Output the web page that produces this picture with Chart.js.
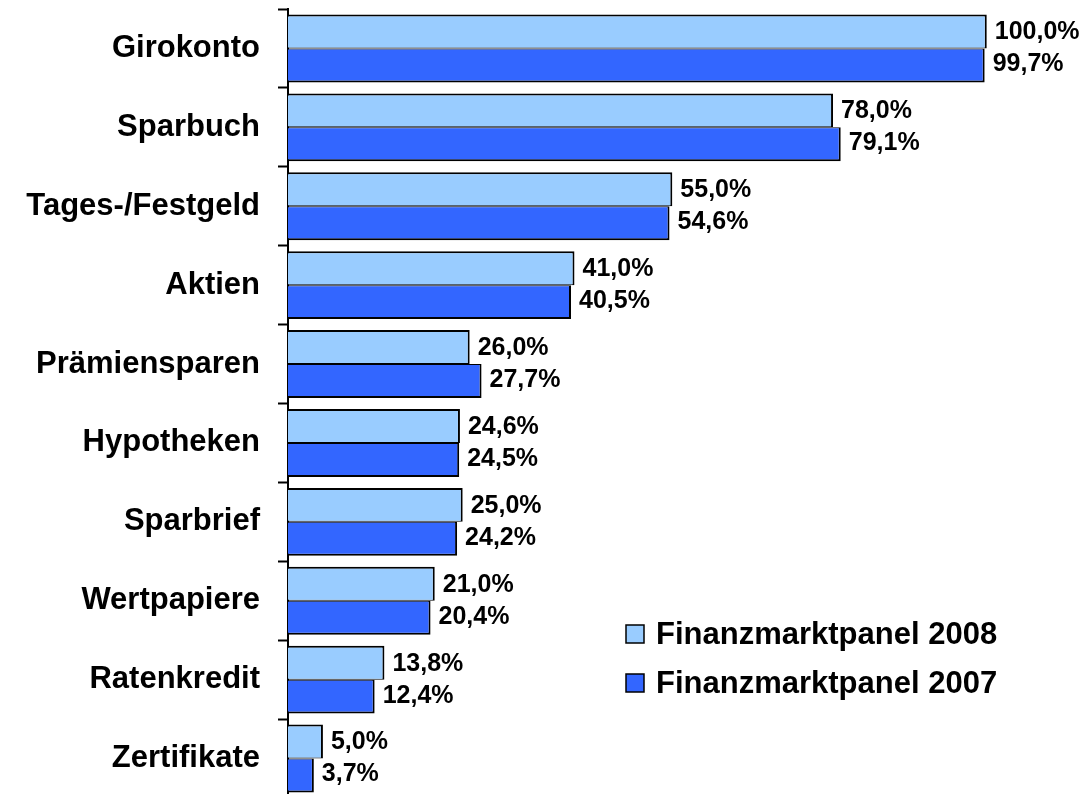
<!DOCTYPE html>
<html>
<head>
<meta charset="utf-8">
<script src="https://cdn.jsdelivr.net/npm/chart.js@4/dist/chart.umd.min.js"></script>
<style>
  html, body { margin: 0; padding: 0; background: #fff; overflow: hidden; }
  #wrap { width: 1086px; height: 800px; }
</style>
</head>
<body>
<div id="wrap"><canvas id="finanzChart" width="1086" height="800"></canvas></div>
<script>
var categories = ["Girokonto", "Sparbuch", "Tages-/Festgeld", "Aktien", "Prämiensparen", "Hypotheken", "Sparbrief", "Wertpapiere", "Ratenkredit", "Zertifikate"];
var panel2008 = [100.0, 78.0, 55.0, 41.0, 26.0, 24.6, 25.0, 21.0, 13.8, 5.0];
var panel2007 = [99.7, 79.1, 54.6, 40.5, 27.7, 24.5, 24.2, 20.4, 12.4, 3.7];
var seriesLabels = ["Finanzmarktpanel 2008", "Finanzmarktpanel 2007"];

function fmtPct(v) {
  return v.toFixed(1).replace('.', ',') + '%';
}

// value labels right of each bar
var barLabels = {
  id: 'barLabels',
  afterDatasetsDraw: function(chart) {
    var ctx = chart.ctx;
    ctx.save();
    ctx.fillStyle = '#000';
    ctx.font = 'bold 25px "Liberation Sans", Arial, sans-serif';
    ctx.textBaseline = 'middle';
    ctx.textAlign = 'left';
    chart.data.datasets.forEach(function(ds, i) {
      chart.getDatasetMeta(i).data.forEach(function(bar, j) {
        ctx.fillText(fmtPct(ds.data[j]), bar.x + 8, bar.y + 1 - i * 2);
      });
    });
    ctx.restore();
  }
};

// legend in the lower right of the plot
var boxLegend = {
  id: 'boxLegend',
  afterDraw: function(chart) {
    var ctx = chart.ctx;
    var x = 626, y0 = 634, step = 49;
    ctx.save();
    ctx.font = 'bold 31px "Liberation Sans", Arial, sans-serif';
    ctx.textBaseline = 'middle';
    chart.data.datasets.forEach(function(ds, i) {
      var y = y0 + i * step;
      ctx.fillStyle = ds.backgroundColor;
      ctx.fillRect(x, y - 9, 18, 18);
      ctx.lineWidth = 1.5;
      ctx.strokeStyle = '#000';
      ctx.strokeRect(x, y - 9, 18, 18);
      ctx.fillStyle = '#000';
      ctx.fillText(ds.label, x + 30, y + 1);
    });
    ctx.restore();
  }
};

const ctx = document.getElementById('finanzChart');
new Chart(ctx, {
  type: 'bar',
  data: {
    labels: categories,
    datasets: [{
      label: seriesLabels[0],
      data: panel2008,
      backgroundColor: '#99CCFF',
      borderColor: '#000',
      borderWidth: { top: 2, right: 2, bottom: 1, left: 0 },
      borderSkipped: false,
      categoryPercentage: 0.86,
      barPercentage: 1.0
    }, {
      label: seriesLabels[1],
      data: panel2007,
      backgroundColor: '#3366FF',
      borderColor: '#000',
      borderWidth: { top: 1, right: 2, bottom: 2, left: 0 },
      borderSkipped: false,
      categoryPercentage: 0.86,
      barPercentage: 1.0
    }]
  },
  options: {
    indexAxis: 'y',
    responsive: false,
    animation: false,
    layout: {
      padding: { top: 9, bottom: 2, left: 0, right: 0 }
    },
    plugins: {
      legend: { display: false },
      tooltip: { enabled: false }
    },
    scales: {
      x: {
        display: false,
        min: 0,
        max: 114.2
      },
      y: {
        afterFit: function(scale) {
          scale.width = 288;
          scale.paddingTop = 0;
          scale.paddingBottom = 0;
        },
        border: {
          display: true,
          color: '#000',
          width: 2
        },
        grid: {
          display: true,
          offset: true,
          drawOnChartArea: false,
          drawTicks: true,
          tickLength: 10,
          tickColor: '#000',
          tickWidth: 2
        },
        ticks: {
          color: '#000',
          padding: 18,
          font: {
            family: '"Liberation Sans", Arial, sans-serif',
            size: 31,
            weight: 'bold'
          }
        }
      }
    }
  },
  plugins: [barLabels, boxLegend]
});
</script>
</body>
</html>
